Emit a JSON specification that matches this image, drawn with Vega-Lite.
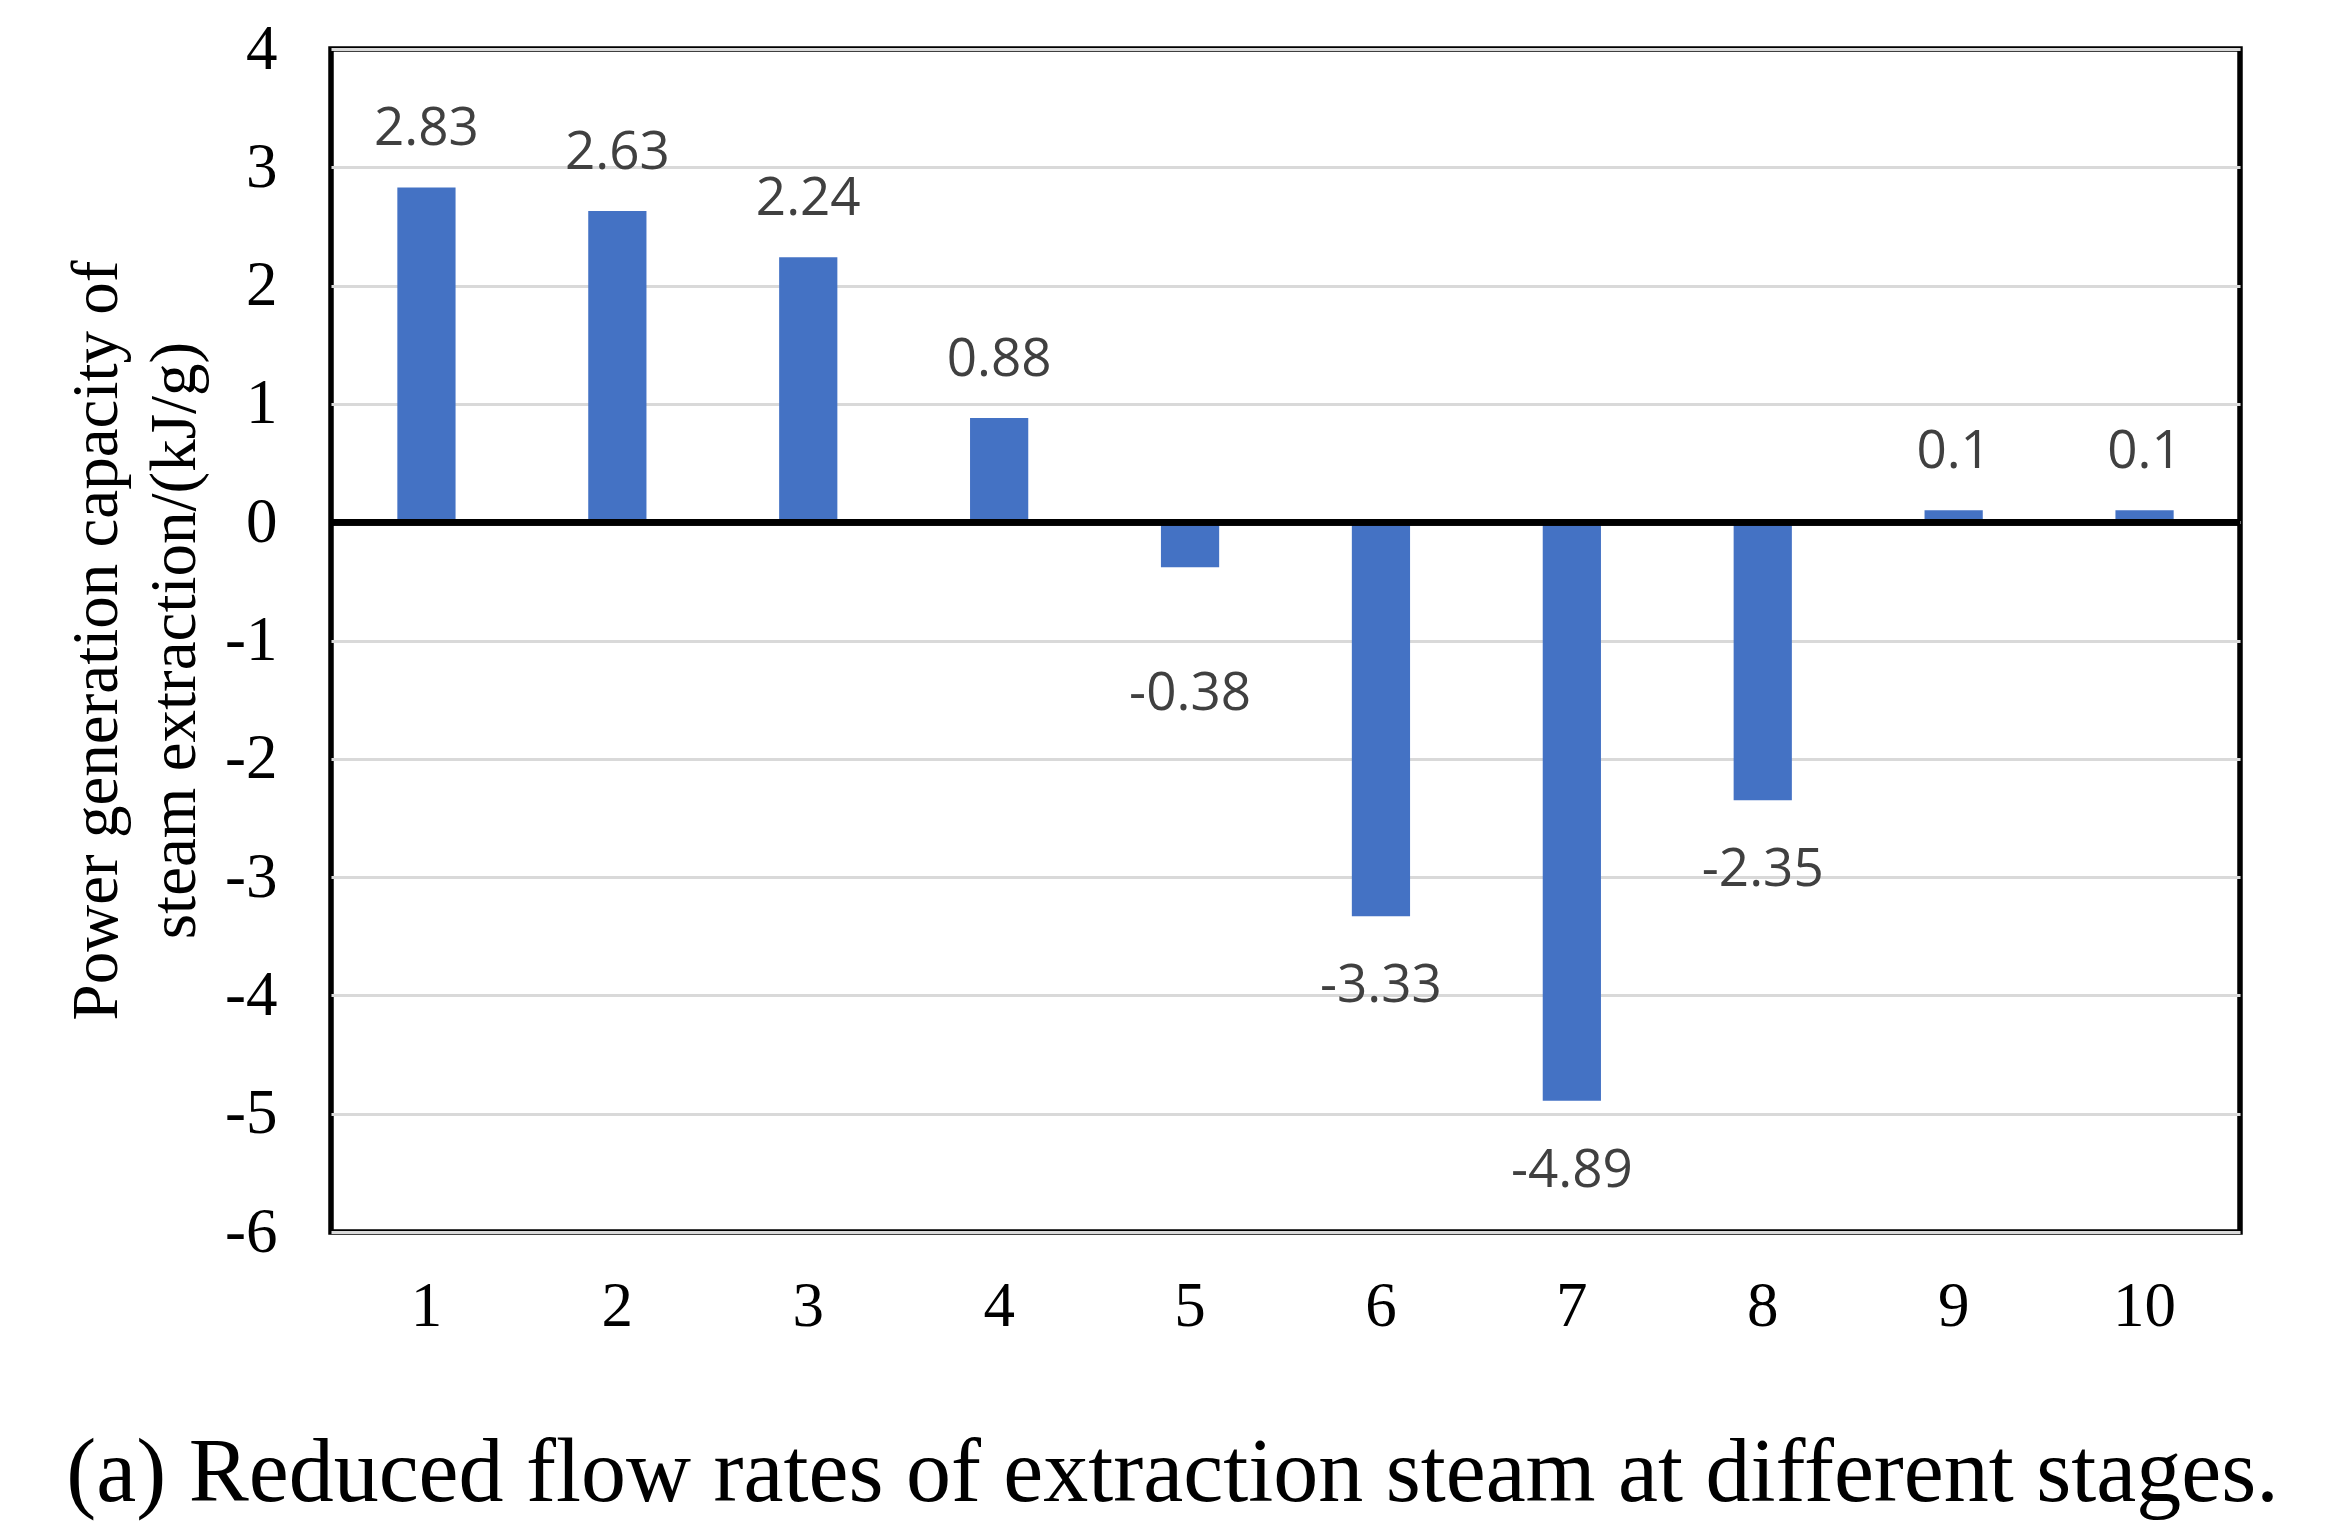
{
  "$schema": "https://vega.github.io/schema/vega-lite/v6.json",
  "width": 1909,
  "height": 1183,
  "autosize": {"type": "none"},
  "padding": {"left": 331, "top": 49, "right": 100, "bottom": 307},
  "background": "white",
  "config": {
    "locale": {"number": {"decimal": ".", "thousands": ",", "grouping": [3], "currency": ["$", ""], "minus": "-"}},
    "view": {"stroke": "black", "strokeWidth": 5.5},
    "axis": {"domain": false, "ticks": false, "labelColor": "black", "labelFont": "Liberation Serif"}
  },
  "title": {
    "text": "(a) Reduced flow rates of extraction steam at different stages.",
    "orient": "bottom",
    "anchor": "middle",
    "font": "Liberation Serif",
    "fontSize": 90,
    "fontWeight": "normal",
    "color": "black",
    "offset": 92,
    "dx": -113
  },
  "data": {
    "values": [
      {"stage": 1, "value": 2.83},
      {"stage": 2, "value": 2.63},
      {"stage": 3, "value": 2.24},
      {"stage": 4, "value": 0.88},
      {"stage": 5, "value": -0.38},
      {"stage": 6, "value": -3.33},
      {"stage": 7, "value": -4.89},
      {"stage": 8, "value": -2.35},
      {"stage": 9, "value": 0.1},
      {"stage": 10, "value": 0.1}
    ]
  },
  "encoding": {
    "x": {
      "field": "stage",
      "type": "ordinal",
      "scale": {"paddingInner": 0.695, "paddingOuter": 0.3475},
      "axis": {"title": null, "labelAngle": 0, "labelFontSize": 63, "labelPadding": 43, "grid": false}
    },
    "y": {
      "field": "value",
      "type": "quantitative",
      "scale": {"domain": [-6, 4], "nice": false, "zero": false},
      "axis": {
        "values": [-6, -5, -4, -3, -2, -1, 0, 1, 2, 3, 4],
        "labelExpr": "'' + datum.value",
        "labelFontSize": 63,
        "labelPadding": 54,
        "grid": true,
        "gridColor": "#d9d9d9",
        "gridWidth": 3,
        "title": ["Power generation capacity of", "steam extraction/(kJ/g)"],
        "titleFont": "Liberation Serif",
        "titleFontSize": 65,
        "titleFontWeight": "normal",
        "titleColor": "black",
        "titleAngle": -90,
        "titleX": -235,
        "titleY": 591,
        "titleAlign": "center",
        "titleBaseline": "middle",
        "titleLineHeight": 78
      }
    }
  },
  "layer": [
    {"mark": {"type": "bar", "color": "#4472C4"}},
    {
      "mark": {"type": "rule", "color": "black", "strokeWidth": 6},
      "encoding": {"y": {"datum": 0, "type": "quantitative"}, "x": null}
    },
    {
      "transform": [{"filter": "datum.value >= 0"}],
      "mark": {"type": "text", "font": "Open Sans", "fontSize": 53, "color": "#404040", "baseline": "middle", "dy": -58},
      "encoding": {"text": {"field": "value", "type": "quantitative"}}
    },
    {
      "transform": [{"filter": "datum.value < 0 && datum.value > -1"}],
      "mark": {"type": "text", "font": "Open Sans", "fontSize": 53, "color": "#404040", "baseline": "middle", "dy": 127},
      "encoding": {"text": {"field": "value", "type": "quantitative"}}
    },
    {
      "transform": [{"filter": "datum.value <= -1"}],
      "mark": {"type": "text", "font": "Open Sans", "fontSize": 53, "color": "#404040", "baseline": "middle", "dy": 70},
      "encoding": {"text": {"field": "value", "type": "quantitative"}}
    }
  ]
}
